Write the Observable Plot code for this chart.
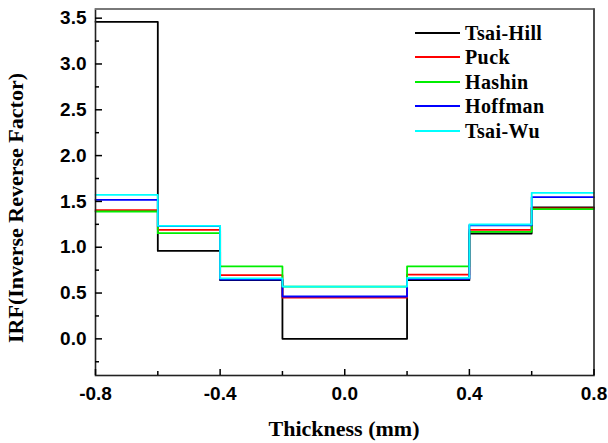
<!DOCTYPE html>
<html><head><meta charset="utf-8">
<script src="https://cdn.jsdelivr.net/npm/d3@7"></script>
<script src="https://cdn.jsdelivr.net/npm/@observablehq/plot@0.6"></script>
<style>
body{margin:0;background:#fff;}
#wrap{position:relative;width:608px;height:443px;overflow:hidden;}
.ttl{position:absolute;font-family:"Liberation Serif","Times New Roman",serif;font-weight:bold;font-size:22px;color:#000;white-space:nowrap;line-height:1;}
.lg{position:absolute;font-family:"Liberation Serif","Times New Roman",serif;font-weight:bold;font-size:20px;letter-spacing:0.4px;color:#000;white-space:nowrap;line-height:1;}
.lgline{position:absolute;height:2px;width:45px;}
</style></head><body><div id="wrap"></div>
<script>
// Layer boundaries (thickness, mm)
const boundaries = [-0.8, -0.6, -0.4, -0.2, 0.2, 0.4, 0.6, 0.8];
const seriesNames = ["Tsai-Hill", "Puck", "Hashin", "Hoffman", "Tsai-Wu"];
const seriesColors = ["#000000", "#ff0000", "#00ee00", "#0000ff", "#00ffff"];
// IRF per layer (7 layers)
const tsaiHill = [3.46, 0.96, 0.64, 0.00, 0.64, 1.15, 1.435];
const puck     = [1.405, 1.19, 0.695, 0.45, 0.70, 1.19, 1.425];
const hashin   = [1.39, 1.153, 0.79, 0.571, 0.79, 1.168, 1.415];
const hoffman  = [1.517, 1.23, 0.647, 0.462, 0.655, 1.24, 1.546];
const tsaiWu   = [1.572, 1.234, 0.66, 0.571, 0.665, 1.248, 1.594];
const xTicks = [-0.8, -0.4, 0.0, 0.4, 0.8];
const xMinorTicks = [-0.6, -0.2, 0.2, 0.6];
const yTicks = [0.0, 0.5, 1.0, 1.5, 2.0, 2.5, 3.0, 3.5];
const yMinorTicks = [-0.25, 0.25, 0.75, 1.25, 1.75, 2.25, 2.75, 3.25];
const xDomain = [-0.8, 0.8];
const yDomain = [-0.4, 3.6];
const xLabel = "Thickness (mm)";
const yLabel = "IRF(Inverse Reverse Factor)";

const seriesValues = [tsaiHill, puck, hashin, hoffman, tsaiWu];
const rows = [];
seriesNames.forEach((name, s) => {
  boundaries.forEach((b, i) => {
    rows.push({series: name, x: b, y: seriesValues[s][Math.min(i, seriesValues[s].length - 1)]});
  });
});

const fmt = d => d.toFixed(1);
const chart = Plot.plot({
  width: 608, height: 443,
  marginLeft: 95, marginRight: 14.5, marginTop: 8.5, marginBottom: 68,
  x: {domain: xDomain},
  y: {domain: yDomain},
  color: {domain: seriesNames, range: seriesColors},
  style: {fontFamily: "'Liberation Sans', Arial, sans-serif", fontSize: "19px", fontWeight: "bold", color: "#000", background: "#fff", overflow: "visible"},
  marks: [
    Plot.line(rows, {x: "x", y: "y", z: "series", stroke: "series", curve: "step-after", strokeWidth: 1.8}),
    Plot.frame({stroke: "#222", strokeWidth: 1.6}),
    Plot.ruleY([yDomain[1]], {stroke: "#888", strokeWidth: 1.6}),
    Plot.axisX({ticks: xTicks, tickSize: -6, tickPadding: 17, tickFormat: fmt, label: null, strokeWidth: 1.5}),
    Plot.axisX({ticks: xMinorTicks, tickSize: -4, tickFormat: () => "", label: null, strokeWidth: 1.5}),
    Plot.axisY({ticks: yTicks, tickSize: -7, tickPadding: 16, tickFormat: fmt, label: null, strokeWidth: 1.5}),
    Plot.axisY({ticks: yMinorTicks, tickSize: -4, tickFormat: () => "", label: null, strokeWidth: 1.5})
  ]
});
const wrap = document.getElementById("wrap");
wrap.appendChild(chart);

const xt = document.createElement("div");
xt.className = "ttl"; xt.textContent = xLabel;
xt.style.left = "344px"; xt.style.top = "429px"; xt.style.transform = "translate(-50%,-50%)";
wrap.appendChild(xt);
const yt = document.createElement("div");
yt.className = "ttl"; yt.textContent = yLabel;
yt.style.left = "16px"; yt.style.top = "208px"; yt.style.transform = "translate(-50%,-50%) rotate(-90deg)";
wrap.appendChild(yt);

seriesNames.forEach((name, i) => {
  const cy = 32.7 + i * 24.5;
  const ln = document.createElement("div");
  ln.className = "lgline"; ln.style.left = "415px"; ln.style.top = (cy - 1) + "px"; ln.style.background = seriesColors[i];
  wrap.appendChild(ln);
  const t = document.createElement("div");
  t.className = "lg"; t.textContent = name;
  t.style.left = "465px"; t.style.top = cy + "px"; t.style.transform = "translateY(-50%)";
  wrap.appendChild(t);
});
</script></body></html>
